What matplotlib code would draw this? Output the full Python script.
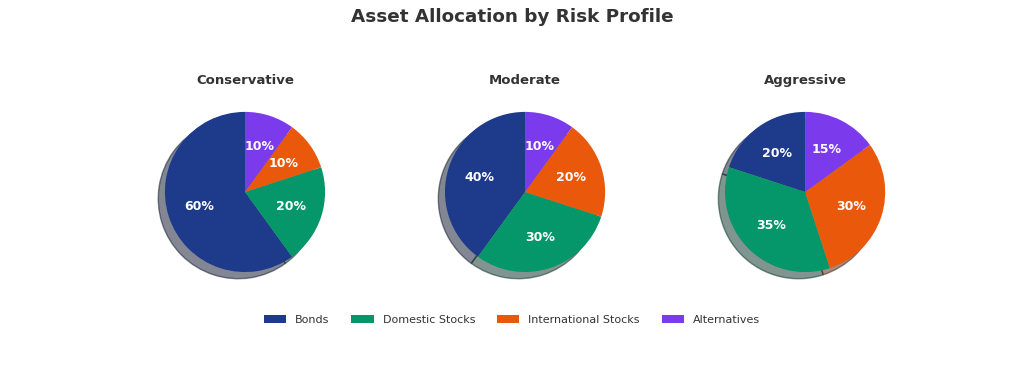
import numpy as np
import matplotlib
matplotlib.use('Agg')
import matplotlib.pyplot as plt

# Allocation data for each risk profile
assets = ['Bonds', 'Domestic Stocks', 'International Stocks', 'Alternatives']
profiles = ['Conservative', 'Moderate', 'Aggressive']
conservative = [60, 20, 10, 10]
moderate = [40, 30, 20, 10]
aggressive = [20, 35, 30, 15]
colors = ['#1e3a8a', '#059669', '#ea580c', '#7c3aed']

allocations = [conservative, moderate, aggressive]

fig, axes = plt.subplots(1, 3, figsize=(10.24, 3.66), dpi=100)
fig.subplots_adjust(left=0.1025, right=0.923, bottom=0.202, top=0.749, wspace=0)

for ax, name, vals in zip(axes, profiles, allocations):
    wedges, texts, autotexts = ax.pie(vals, colors=colors, startangle=90,
                                      autopct='%1.0f%%', pctdistance=0.6,
                                      shadow={'ox': -0.06, 'oy': -0.06},
                                      textprops={'color': 'white', 'fontsize': 9, 'fontweight': 'bold'})
    ax.set_title(name, fontsize=9.5, fontweight='bold', color='#333333', pad=6)

fig.suptitle('Asset Allocation by Risk Profile', fontsize=13.2, fontweight='bold', color='#333333', y=0.978)
fig.legend(wedges, assets, loc='center', bbox_to_anchor=(0.5, 0.125), ncol=4, frameon=False,
           fontsize=8, labelcolor='#333333', columnspacing=2.0)

plt.savefig('out.png', dpi=100)
